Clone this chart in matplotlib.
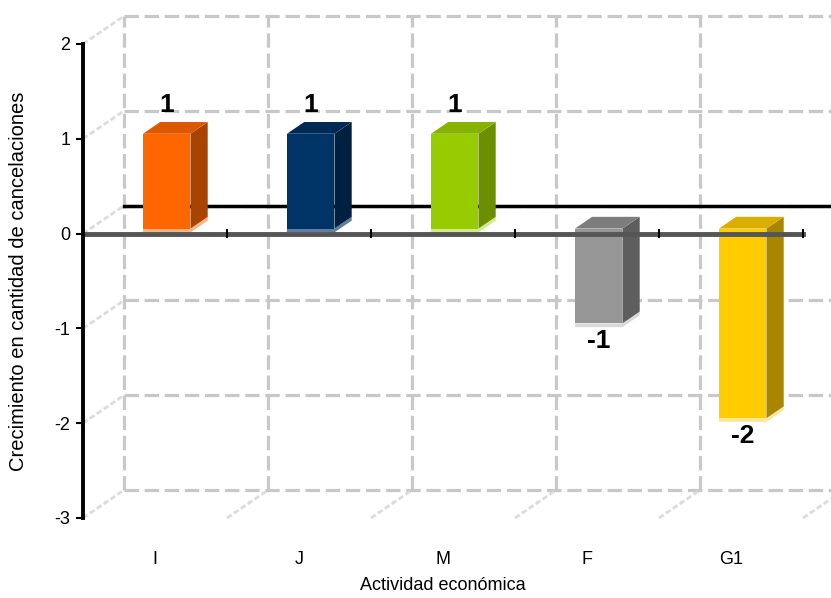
import matplotlib
matplotlib.use("Agg")
import matplotlib.pyplot as plt
from matplotlib.patches import Polygon

plt.rcParams['font.family'] = ['Liberation Sans Narrow', 'Liberation Sans', 'DejaVu Sans']

# data
categories = ["I", "J", "M", "F", "G1"]
values = [1, 1, 1, -1, -2]
front_colors = ["#FF6600", "#003366", "#99CC00", "#969696", "#FFCC00"]
side_colors = ["#A84300", "#00203F", "#6B8F00", "#5E5E5E", "#A88600"]
top_colors = ["#DD5800", "#002A55", "#86B300", "#7D7D7D", "#D9AE00"]
low_colors = ["#FFB27F", "#5F7FA0", "#D2EB8A", "#D9D9D9", "#FFE699"]
yticks = [-3, -2, -1, 0, 1, 2]

# fake depth offset of the back wall (data units)
DX, DY = 0.285, 0.295
grid_col = "#C8C8C8"

fig = plt.figure(figsize=(8.31, 5.98), dpi=100)
ax = fig.add_axes([83 / 831, 80 / 598, 720 / 831, 474 / 598])
ax.set_xlim(-0.5, len(categories) - 0.5)
ax.set_ylim(-3, 2)

# back wall grid
for v in yticks:
    ax.plot([-0.5 + DX, len(categories) - 0.5 + DX], [v + DY, v + DY],
            color=grid_col, lw=2.3, ls=(0, (4.5, 1.8)), clip_on=False, zorder=1)
    # left wall diagonals
    ax.plot([-0.5, -0.5 + DX], [v, v + DY], color="#DCDCDC", lw=2,
            ls=(0, (2, 1)), clip_on=False, zorder=1)
for k in range(len(categories) + 1):
    ax.plot([-0.5 + k + DX, -0.5 + k + DX], [-3 + DY, 2 + DY],
            color=grid_col, lw=2.3, ls=(0, (4.5, 1.8)), clip_on=False, zorder=1)
    if k > 0:
        ax.plot([-0.5 + k, -0.5 + k + DX], [-3, -3 + DY], color="#DCDCDC",
                lw=2, ls=(0, (2, 1)), clip_on=False, zorder=1)

# back edge of the floor at zero
ax.plot([-0.5 + DX, len(categories) - 0.5 + DX], [DY, DY], color="black",
        lw=2.5, clip_on=False, zorder=2)


def pt(x, y, d):
    return (x + d * DX, y + d * DY)


hw, off, d0, d1 = 0.165, 0.03, 0.18, 0.6
for i, v in enumerate(values):
    x0, x1 = i + off - hw, i + off + hw
    y0, y1 = min(0, v), max(0, v)
    e = 0.04
    low = [pt(x0, y0, d0), pt(x1, y0, d0), pt(x1, y0, d1),
           pt(x1, y0 - e, d1), pt(x1, y0 - e, d0), pt(x0, y0 - e, d0)]
    ax.add_patch(Polygon(low, closed=True, fc=low_colors[i], ec="none", zorder=4))
    front = [pt(x0, y0, d0), pt(x1, y0, d0), pt(x1, y1, d0), pt(x0, y1, d0)]
    side = [pt(x1, y0, d0), pt(x1, y0, d1), pt(x1, y1, d1), pt(x1, y1, d0)]
    top = [pt(x0, y1, d0), pt(x1, y1, d0), pt(x1, y1, d1), pt(x0, y1, d1)]
    ax.add_patch(Polygon(front, closed=True, fc=front_colors[i], ec="none", zorder=5))
    ax.add_patch(Polygon(side, closed=True, fc=side_colors[i], ec="none", zorder=5))
    ax.add_patch(Polygon(top, closed=True, fc=top_colors[i], ec="none", zorder=5))
    cx = i + off + d0 * DX
    if v > 0:
        ax.annotate(str(v), (cx, y1 + d0 * DY), xytext=(0, 12), textcoords="offset points",
                    ha="center", va="bottom", fontsize=19, fontweight="bold", zorder=7)
    else:
        ax.annotate(str(v), (cx, y0 + d0 * DY), xytext=(0, -4), textcoords="offset points",
                    ha="center", va="top", fontsize=19, fontweight="bold", zorder=7)

# front category axis at zero
ax.plot([-0.5, len(categories) - 0.5], [0, 0], color="#555555", lw=3.5,
        clip_on=False, zorder=6)
for k in range(1, len(categories) + 1):
    ax.plot([-0.5 + k, -0.5 + k], [-0.04, 0.04], color="black", lw=1.5,
            clip_on=False, zorder=6)

for s in ["top", "right", "bottom"]:
    ax.spines[s].set_visible(False)
ax.spines["left"].set_linewidth(2.8)
ax.spines["left"].set_zorder(6)
ax.set_yticks(yticks)
ax.set_yticklabels([str(t) for t in yticks], fontsize=13)
ax.tick_params(axis="y", length=5, width=1.5, pad=4)
ax.set_xticks(range(len(categories)))
ax.set_xticklabels(categories, fontsize=13)
ax.tick_params(axis="x", length=0, pad=24)
ax.set_facecolor("none")

ax.set_ylabel("Crecimiento en cantidad de cancelaciones", fontsize=14.5)
ax.yaxis.set_label_coords(-0.076, 0.5)
ax.set_xlabel("Actividad económica", fontsize=13)
ax.xaxis.set_label_coords(0.5, -0.124)

fig.savefig("out.png", dpi=100)
